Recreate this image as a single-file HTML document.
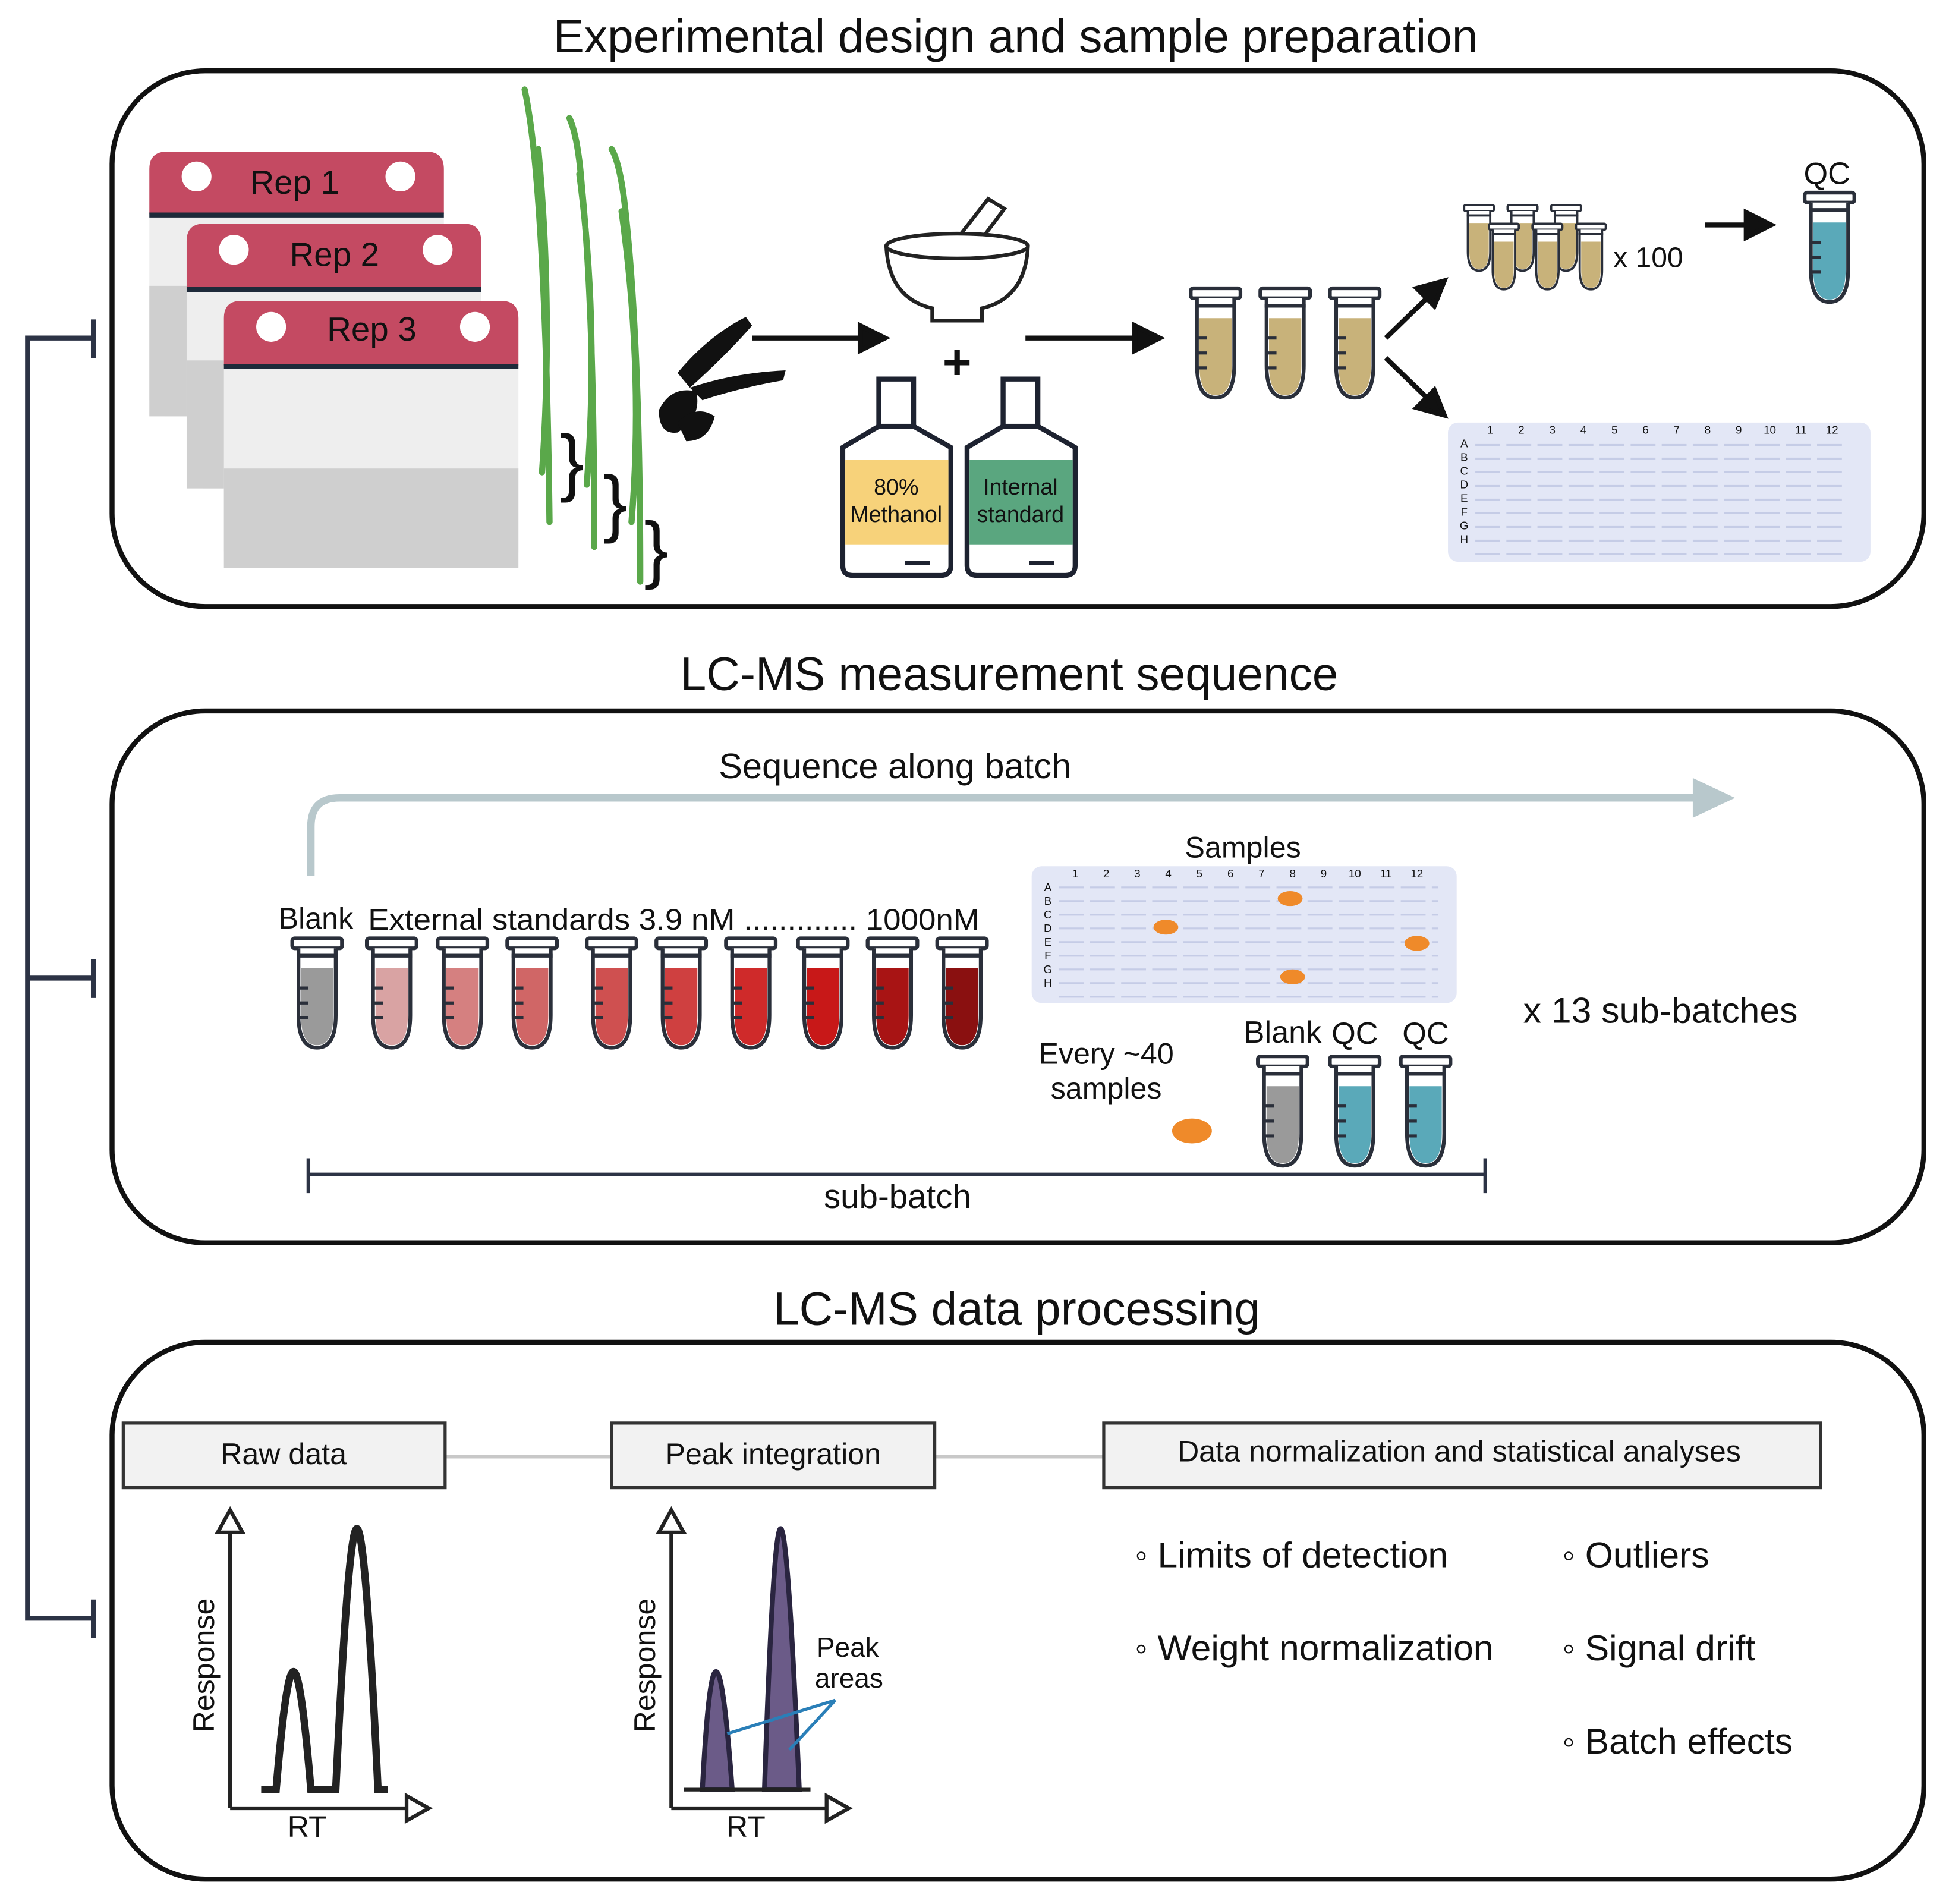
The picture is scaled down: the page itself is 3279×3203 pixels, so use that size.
<!DOCTYPE html>
<html><head><meta charset="utf-8"><style>html,body{margin:0;padding:0;background:#fff}svg{display:block}text{font-family:"Liberation Sans",sans-serif;fill:#111}</style></head><body>
<svg width="3279" height="3203" viewBox="0 0 1568 1532" xmlns="http://www.w3.org/2000/svg">
<defs>
<g id="tube">
<rect x="-20" y="0" width="40" height="8" rx="2" fill="#fff" stroke="#2a2f3a" stroke-width="3"/>
<path d="M-15,8 L-15,14 L15,14 L15,8" fill="#fff" stroke="#2a2f3a" stroke-width="3"/>
<path d="M-15,14 L15,14 L15,62 Q15,88 0,88 Q-15,88 -15,62 Z" fill="#fff" stroke="#2a2f3a" stroke-width="3"/>
</g>
<g id="tubemarks" stroke="#2a2f3a" stroke-width="2.5">
<line x1="-15" y1="40" x2="-7" y2="40"/><line x1="-15" y1="52" x2="-7" y2="52"/><line x1="-15" y1="64" x2="-7" y2="64"/>
</g>
</defs>

<!-- titles -->
<text x="817" y="42" font-size="37.5" text-anchor="middle">Experimental design and sample preparation</text>
<text x="812" y="555" font-size="37.5" text-anchor="middle">LC-MS measurement sequence</text>
<text x="818" y="1066" font-size="37.5" text-anchor="middle">LC-MS data processing</text>

<!-- panels -->
<g fill="none" stroke="#111" stroke-width="4">
<rect x="90" y="57" width="1458" height="431" rx="75"/>
<rect x="90" y="572" width="1458" height="428" rx="75"/>
<rect x="90" y="1080" width="1458" height="432" rx="75"/>
</g>

<!-- left bracket -->
<g stroke="#2c3345" stroke-width="4" fill="none">
<path d="M75,272 L22,272 L22,1302 L75,1302"/>
<line x1="22" y1="787" x2="75" y2="787"/>
<line x1="75" y1="257" x2="75" y2="288"/>
<line x1="75" y1="772" x2="75" y2="803"/>
<line x1="75" y1="1287" x2="75" y2="1318"/>
</g>

<!-- rep cards -->
<g>
<g>
<rect x="120" y="122" width="237" height="213" rx="14" fill="#eeeeee"/>
<rect x="120" y="230" width="237" height="105" fill="#cfcfcf"/>
<path d="M120,172 L120,136 Q120,122 134,122 L343,122 Q357,122 357,136 L357,172 Z" fill="#c44a62"/>
<line x1="120" y1="173" x2="357" y2="173" stroke="#1e2a3a" stroke-width="4"/>
<circle cx="158" cy="142" r="12" fill="#fff"/><circle cx="322" cy="142" r="12" fill="#fff"/>
<text x="237" y="156" font-size="27" text-anchor="middle">Rep 1</text>
</g>
<g>
<rect x="150" y="180" width="237" height="213" rx="14" fill="#eeeeee"/>
<rect x="150" y="290" width="237" height="103" fill="#cfcfcf"/>
<path d="M150,232 L150,194 Q150,180 164,180 L373,180 Q387,180 387,194 L387,232 Z" fill="#c44a62"/>
<line x1="150" y1="233" x2="387" y2="233" stroke="#1e2a3a" stroke-width="4"/>
<circle cx="188" cy="201" r="12" fill="#fff"/><circle cx="352" cy="201" r="12" fill="#fff"/>
<text x="269" y="214" font-size="27" text-anchor="middle">Rep 2</text>
</g>
<g>
<rect x="180" y="242" width="237" height="215" rx="14" fill="#eeeeee"/>
<rect x="180" y="377" width="237" height="80" fill="#cfcfcf"/>
<path d="M180,294 L180,256 Q180,242 194,242 L403,242 Q417,242 417,256 L417,294 Z" fill="#c44a62"/>
<line x1="180" y1="295" x2="417" y2="295" stroke="#1e2a3a" stroke-width="4"/>
<circle cx="218" cy="263" r="12" fill="#fff"/><circle cx="382" cy="263" r="12" fill="#fff"/>
<text x="299" y="274" font-size="27" text-anchor="middle">Rep 3</text>
</g>
</g>

<!-- grass -->
<g fill="none" stroke="#5aa84a" stroke-width="5" stroke-linecap="round">
<path d="M442,420 Q440,250 432,150 Q428,100 422,72"/>
<path d="M436,380 Q445,250 433,120"/>
<path d="M478,440 Q478,250 468,150 Q465,110 458,95"/>
<path d="M472,390 Q482,260 466,140"/>
<path d="M515,468 Q515,270 502,160 Q498,130 492,120"/>
<path d="M508,420 Q518,300 500,170"/>
</g>
<g font-size="60" font-family="Liberation Serif">
<text x="450" y="392">}</text><text x="485" y="425">}</text><text x="518" y="462">}</text>
</g>

<!-- scissors -->
<g fill="#111">
<path d="M545,300 Q570,270 600,255 L605,262 Q585,285 555,312 Z"/>
<path d="M555,312 Q590,300 632,298 L630,306 Q595,312 565,322 Z"/>
<path d="M530,330 Q540,310 560,315 Q565,335 545,348 Q530,350 530,330 Z"/>
<path d="M545,340 Q560,325 575,335 Q570,355 552,355 Z"/>
</g>

<!-- arrows -->
<g stroke="#111" stroke-width="4" fill="#111">
<line x1="605" y1="272" x2="695" y2="272"/><path d="M712,272 L692,262 L692,282 Z"/>
<line x1="825" y1="272" x2="915" y2="272"/><path d="M933,272 L913,262 L913,282 Z"/>
<line x1="1115" y1="272" x2="1150" y2="238"/><path d="M1162,226 L1140,232 L1154,246 Z"/>
<line x1="1115" y1="288" x2="1150" y2="322"/><path d="M1162,334 L1140,328 L1154,314 Z"/>
<line x1="1372" y1="181" x2="1408" y2="181"/><path d="M1425,181 L1405,171 L1405,191 Z"/>
</g>

<!-- mortar -->
<g stroke="#222" stroke-width="3" fill="#fff">
<path d="M760,205 L795,160 L808,168 L775,212 Z"/>
<path d="M713,198 Q770,185 827,198 Q825,240 790,248 L790,258 L750,258 L750,248 Q715,240 713,198 Z"/>
<ellipse cx="770" cy="198" rx="57" ry="10"/>
</g>
<text x="770" y="305" font-size="40" text-anchor="middle" font-weight="bold">+</text>

<!-- bottles -->
<g stroke="#1d2230" stroke-width="4">
<rect x="707" y="305" width="28" height="38" fill="#fff"/>
<path d="M707,343 L678,360 L678,455 Q678,463 686,463 L757,463 Q765,463 765,455 L765,360 L735,343 Z" fill="#fff"/>
<rect x="680" y="370" width="83" height="68" fill="#f7d27a" stroke="none"/>
<rect x="807" y="305" width="28" height="38" fill="#fff"/>
<path d="M807,343 L778,360 L778,455 Q778,463 786,463 L857,463 Q865,463 865,455 L865,360 L835,343 Z" fill="#fff"/>
<rect x="780" y="370" width="83" height="68" fill="#5aa67f" stroke="none"/>
<line x1="728" y1="453" x2="748" y2="453" stroke-width="3"/>
<line x1="828" y1="453" x2="848" y2="453" stroke-width="3"/>
</g>
<text x="721" y="398" font-size="18" text-anchor="middle">80%</text>
<text x="721" y="420" font-size="18" text-anchor="middle">Methanol</text>
<text x="821" y="398" font-size="18" text-anchor="middle">Internal</text>
<text x="821" y="420" font-size="18" text-anchor="middle">standard</text>

<!-- tan tubes -->
<g transform="translate(978,232)"><use href="#tube"/><path d="M-13,24 L13,24 L13,62 Q13,86 0,86 Q-13,86 -13,62 Z" fill="#c8b27a"/><use href="#tubemarks"/></g>
<g transform="translate(1034,232)"><use href="#tube"/><path d="M-13,24 L13,24 L13,62 Q13,86 0,86 Q-13,86 -13,62 Z" fill="#c8b27a"/><use href="#tubemarks"/></g>
<g transform="translate(1090,232)"><use href="#tube"/><path d="M-13,24 L13,24 L13,62 Q13,86 0,86 Q-13,86 -13,62 Z" fill="#c8b27a"/><use href="#tubemarks"/></g>

<!-- small tubes cluster -->
<g>
<g transform="translate(1190,165) scale(0.6)"><use href="#tube"/><path d="M-13,24 L13,24 L13,62 Q13,86 0,86 Q-13,86 -13,62 Z" fill="#c8b27a"/></g>
<g transform="translate(1225,165) scale(0.6)"><use href="#tube"/><path d="M-13,24 L13,24 L13,62 Q13,86 0,86 Q-13,86 -13,62 Z" fill="#c8b27a"/></g>
<g transform="translate(1260,165) scale(0.6)"><use href="#tube"/><path d="M-13,24 L13,24 L13,62 Q13,86 0,86 Q-13,86 -13,62 Z" fill="#c8b27a"/></g>
<g transform="translate(1210,180) scale(0.6)"><use href="#tube"/><path d="M-13,24 L13,24 L13,62 Q13,86 0,86 Q-13,86 -13,62 Z" fill="#c8b27a"/></g>
<g transform="translate(1245,180) scale(0.6)"><use href="#tube"/><path d="M-13,24 L13,24 L13,62 Q13,86 0,86 Q-13,86 -13,62 Z" fill="#c8b27a"/></g>
<g transform="translate(1280,180) scale(0.6)"><use href="#tube"/><path d="M-13,24 L13,24 L13,62 Q13,86 0,86 Q-13,86 -13,62 Z" fill="#c8b27a"/></g>
</g>
<text x="1298" y="215" font-size="23">x 100</text>

<!-- QC tube -->
<text x="1470" y="148" font-size="25" text-anchor="middle">QC</text>
<g transform="translate(1472,155)"><use href="#tube"/><path d="M-13,24 L13,24 L13,62 Q13,86 0,86 Q-13,86 -13,62 Z" fill="#5aa9b9"/><use href="#tubemarks"/></g>

<!-- plate 1 -->
<rect x="1165" y="340" width="340" height="112" rx="8" fill="#e3e7f6"/>
<g font-size="9" fill="#555" text-anchor="middle">
<text x="1199" y="349">1</text><text x="1224" y="349">2</text><text x="1249" y="349">3</text><text x="1274" y="349">4</text><text x="1299" y="349">5</text><text x="1324" y="349">6</text><text x="1349" y="349">7</text><text x="1374" y="349">8</text><text x="1399" y="349">9</text><text x="1424" y="349">10</text><text x="1449" y="349">11</text><text x="1474" y="349">12</text>
</g>
<g fill="none" stroke="#c5cce6" stroke-width="1.5">
<path d="M1187,358 h300 M1187,369 h300 M1187,380 h300 M1187,391 h300 M1187,402 h300 M1187,413 h300 M1187,424 h300 M1187,435 h300 M1187,446 h300" stroke-dasharray="20,5"/>
</g>
<g font-size="9" fill="#555" text-anchor="middle">
<text x="1178" y="360">A</text><text x="1178" y="371">B</text><text x="1178" y="382">C</text><text x="1178" y="393">D</text><text x="1178" y="404">E</text><text x="1178" y="415">F</text><text x="1178" y="426">G</text><text x="1178" y="437">H</text>
</g>

<!-- Panel 2 -->
<text x="720" y="626" font-size="28.5" text-anchor="middle">Sequence along batch</text>
<path d="M250,705 L250,665 Q250,642 273,642 L1368,642" fill="none" stroke="#b8c8cc" stroke-width="6"/>
<path d="M1396,642 L1362,626 L1362,658 Z" fill="#b8c8cc"/>

<text x="224" y="747" font-size="24">Blank</text>
<text x="296" y="748" font-size="24" textLength="492" lengthAdjust="spacingAndGlyphs">External standards 3.9 nM ............. 1000nM</text>

<g>
<g transform="translate(255,755)"><use href="#tube"/><path d="M-13,24 L13,24 L13,62 Q13,86 0,86 Q-13,86 -13,62 Z" fill="#9a9a9a"/><use href="#tubemarks"/></g>
<g transform="translate(315,755)"><use href="#tube"/><path d="M-13,24 L13,24 L13,62 Q13,86 0,86 Q-13,86 -13,62 Z" fill="#d9a3a3"/><use href="#tubemarks"/></g>
<g transform="translate(372,755)"><use href="#tube"/><path d="M-13,24 L13,24 L13,62 Q13,86 0,86 Q-13,86 -13,62 Z" fill="#d58080"/><use href="#tubemarks"/></g>
<g transform="translate(428,755)"><use href="#tube"/><path d="M-13,24 L13,24 L13,62 Q13,86 0,86 Q-13,86 -13,62 Z" fill="#d06666"/><use href="#tubemarks"/></g>
<g transform="translate(492,755)"><use href="#tube"/><path d="M-13,24 L13,24 L13,62 Q13,86 0,86 Q-13,86 -13,62 Z" fill="#cf5050"/><use href="#tubemarks"/></g>
<g transform="translate(548,755)"><use href="#tube"/><path d="M-13,24 L13,24 L13,62 Q13,86 0,86 Q-13,86 -13,62 Z" fill="#cf4040"/><use href="#tubemarks"/></g>
<g transform="translate(604,755)"><use href="#tube"/><path d="M-13,24 L13,24 L13,62 Q13,86 0,86 Q-13,86 -13,62 Z" fill="#cf2a2a"/><use href="#tubemarks"/></g>
<g transform="translate(662,755)"><use href="#tube"/><path d="M-13,24 L13,24 L13,62 Q13,86 0,86 Q-13,86 -13,62 Z" fill="#c81818"/><use href="#tubemarks"/></g>
<g transform="translate(718,755)"><use href="#tube"/><path d="M-13,24 L13,24 L13,62 Q13,86 0,86 Q-13,86 -13,62 Z" fill="#a81414"/><use href="#tubemarks"/></g>
<g transform="translate(774,755)"><use href="#tube"/><path d="M-13,24 L13,24 L13,62 Q13,86 0,86 Q-13,86 -13,62 Z" fill="#8a1010"/><use href="#tubemarks"/></g>
</g>

<text x="1000" y="690" font-size="24" text-anchor="middle">Samples</text>
<rect x="830" y="697" width="342" height="110" rx="8" fill="#e3e7f6"/>
<g font-size="9" fill="#555" text-anchor="middle">
<text x="865" y="706">1</text><text x="890" y="706">2</text><text x="915" y="706">3</text><text x="940" y="706">4</text><text x="965" y="706">5</text><text x="990" y="706">6</text><text x="1015" y="706">7</text><text x="1040" y="706">8</text><text x="1065" y="706">9</text><text x="1090" y="706">10</text><text x="1115" y="706">11</text><text x="1140" y="706">12</text>
<text x="843" y="717">A</text><text x="843" y="728">B</text><text x="843" y="739">C</text><text x="843" y="750">D</text><text x="843" y="761">E</text><text x="843" y="772">F</text><text x="843" y="783">G</text><text x="843" y="794">H</text>
</g>
<g fill="none" stroke="#c5cce6" stroke-width="1.5">
<path d="M852,714 h305 M852,725 h305 M852,736 h305 M852,747 h305 M852,758 h305 M852,769 h305 M852,780 h305 M852,791 h305 M852,802 h305" stroke-dasharray="20,5"/>
</g>
<g fill="#ef8a2a">
<ellipse cx="1038" cy="723" rx="10" ry="6"/><ellipse cx="938" cy="746" rx="10" ry="6"/><ellipse cx="1140" cy="759" rx="10" ry="6"/><ellipse cx="1040" cy="786" rx="10" ry="6"/>
<ellipse cx="959" cy="910" rx="16" ry="10"/>
</g>
<text x="1336" y="823" font-size="29" text-anchor="middle">x 13 sub-batches</text>
<text x="1032" y="839" font-size="25" text-anchor="middle">Blank</text>
<text x="1090" y="840" font-size="25" text-anchor="middle">QC</text>
<text x="1147" y="840" font-size="25" text-anchor="middle">QC</text>
<text x="890" y="856" font-size="24" text-anchor="middle">Every ~40</text>
<text x="890" y="884" font-size="24" text-anchor="middle">samples</text>
<g transform="translate(1032,850)"><use href="#tube"/><path d="M-13,24 L13,24 L13,62 Q13,86 0,86 Q-13,86 -13,62 Z" fill="#9a9a9a"/><use href="#tubemarks"/></g>
<g transform="translate(1090,850)"><use href="#tube"/><path d="M-13,24 L13,24 L13,62 Q13,86 0,86 Q-13,86 -13,62 Z" fill="#5aa9b9"/><use href="#tubemarks"/></g>
<g transform="translate(1147,850)"><use href="#tube"/><path d="M-13,24 L13,24 L13,62 Q13,86 0,86 Q-13,86 -13,62 Z" fill="#5aa9b9"/><use href="#tubemarks"/></g>

<g stroke="#2c3345" stroke-width="3">
<line x1="248" y1="945" x2="1195" y2="945"/>
<line x1="248" y1="932" x2="248" y2="960"/>
<line x1="1195" y1="932" x2="1195" y2="960"/>
</g>
<text x="722" y="972" font-size="27" text-anchor="middle">sub-batch</text>

<!-- Panel 3 -->
<g stroke="#c8c8c8" stroke-width="3">
<line x1="358" y1="1172" x2="492" y2="1172"/>
<line x1="752" y1="1172" x2="888" y2="1172"/>
</g>
<g fill="#f2f2f2" stroke="#333" stroke-width="2.5">
<rect x="99" y="1145" width="259" height="52"/>
<rect x="492" y="1145" width="260" height="52"/>
<rect x="888" y="1145" width="577" height="52"/>
</g>
<text x="228" y="1178" font-size="24" text-anchor="middle">Raw data</text>
<text x="622" y="1178" font-size="24" text-anchor="middle">Peak integration</text>
<text x="1174" y="1176" font-size="24" text-anchor="middle">Data normalization and statistical analyses</text>

<!-- plot 1 -->
<g stroke="#222" stroke-width="3" fill="#fff">
<path d="M185,1455 L185,1232 M185,1455 L328,1455"/>
<path d="M185,1215 L175,1233 L195,1233 Z"/>
<path d="M345,1455 L327,1445 L327,1465 Z"/>
</g>
<path d="M210,1440 L222,1440 Q230,1345 236,1345 Q242,1345 250,1440 L270,1440 Q280,1230 287,1230 Q294,1230 304,1440 L312,1440" fill="none" stroke="#222" stroke-width="6"/>
<text x="172" y="1340" font-size="24" text-anchor="middle" transform="rotate(-90 172 1340)">Response</text>
<text x="247" y="1478" font-size="24" text-anchor="middle">RT</text>

<!-- plot 2 -->
<g stroke="#222" stroke-width="3" fill="#fff">
<path d="M540,1455 L540,1232 M540,1455 L665,1455"/>
<path d="M540,1215 L530,1233 L550,1233 Z"/>
<path d="M683,1455 L665,1445 L665,1465 Z"/>
</g>
<path d="M565,1440 Q570,1345 576,1345 Q582,1345 589,1440 Z M615,1440 Q622,1230 628,1230 Q634,1230 643,1440 Z" fill="#6b5b88" stroke="#2a2540" stroke-width="4"/>
<path d="M550,1440 L652,1440" stroke="#222" stroke-width="3"/>
<g stroke="#2a7fb8" stroke-width="2.5">
<line x1="585" y1="1395" x2="672" y2="1368"/>
<line x1="635" y1="1408" x2="672" y2="1368"/>
</g>
<text x="682" y="1333" font-size="22" text-anchor="middle">Peak</text>
<text x="683" y="1358" font-size="22" text-anchor="middle">areas</text>
<text x="527" y="1340" font-size="24" text-anchor="middle" transform="rotate(-90 527 1340)">Response</text>
<text x="600" y="1478" font-size="24" text-anchor="middle">RT</text>

<g font-size="29">
<text x="913" y="1261">◦ Limits of detection</text>
<text x="1257" y="1261">◦ Outliers</text>
<text x="913" y="1336">◦ Weight normalization</text>
<text x="1257" y="1336">◦ Signal drift</text>
<text x="1257" y="1411">◦ Batch effects</text>
</g>
</svg>
</body></html>
